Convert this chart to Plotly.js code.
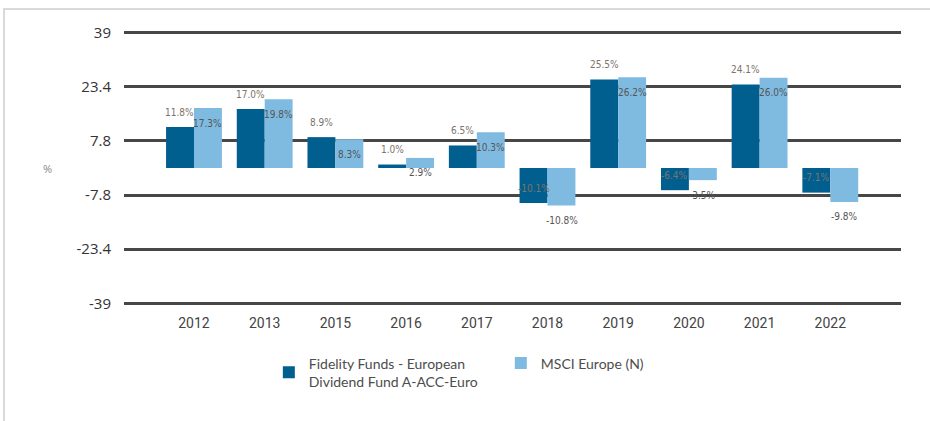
<!DOCTYPE html>
<html>
<head>
<meta charset="utf-8">
<script src="https://cdn.plot.ly/plotly-3.0.1.min.js"></script>
<style>
  html, body { margin: 0; padding: 0; background: #fff; }
  #wrap { position: relative; width: 930px; height: 421px; overflow: hidden; }
  #chart { position: absolute; left: 0; top: 0; width: 930px; height: 421px; }
  #frame { position: absolute; left: 3px; top: 8px; width: 1000px; height: 500px;
           border-top: 2px solid #d9d9d9; border-left: 2px solid #d9d9d9; pointer-events: none; }
</style>
</head>
<body>
<div id="wrap">
  <div id="chart"></div>
  <div id="frame"></div>
</div>
<script>
// ---- Data ----
const years = ['2012', '2013', '2015', '2016', '2017', '2018', '2019', '2020', '2021', '2022'];
const fundName = 'Fidelity Funds - European<br>Dividend Fund A-ACC-Euro';
const indexName = 'MSCI Europe (N)';
const fundValues = [11.8, 17.0, 8.9, 1.0, 6.5, -10.1, 25.5, -6.4, 24.1, -7.1];
const indexValues = [17.3, 19.8, 8.3, 2.9, 10.3, -10.8, 26.2, -3.5, 26.0, -9.8];
const yTickValues = [39, 23.4, 7.8, -7.8, -23.4, -39];
const yTickLabels = ['39', '23.4', '7.8', '-7.8', '-23.4', '-39'];

// ---- Style ----
const fundColor = '#005f8f';
const indexColor = '#7fbbe1';
const labelFont = { family: 'Liberation Sans Narrow, DejaVu Sans Condensed, sans-serif', size: 10 };

const traces = [
  { type: 'bar', name: fundName, x: years, y: fundValues,
    marker: { color: fundColor, line: { width: 0 } }, hoverinfo: 'none' },
  { type: 'bar', name: indexName, x: years, y: indexValues,
    marker: { color: indexColor, line: { width: 0 } }, hoverinfo: 'none' }
];

const annotations = [];
years.forEach((yr, i) => {
  // category axis: annotation x given as the category's serial index
  annotations.push({ x: i, y: fundValues[i], xref: 'x', yref: 'y', xshift: -14, yshift: 15,
    xanchor: 'center', yanchor: 'middle',
    text: fundValues[i].toFixed(1) + '%', showarrow: false,
    font: Object.assign({ color: '#7d736a' }, labelFont) });
  annotations.push({ x: i, y: indexValues[i], xref: 'x', yref: 'y', xshift: 14, yshift: -15,
    xanchor: 'center', yanchor: 'middle',
    text: indexValues[i].toFixed(1) + '%', showarrow: false,
    font: Object.assign({ color: '#555555' }, labelFont) });
});
annotations.push({ x: -0.099, y: 0.5, xref: 'paper', yref: 'paper', xanchor: 'center', yanchor: 'middle',
  text: '%', showarrow: false,
  font: { family: 'Open Sans, sans-serif', size: 11, color: '#888' } });

const layout = {
  width: 930, height: 421,
  margin: { l: 124, r: 29, t: 31, b: 116, pad: 0 },
  paper_bgcolor: '#ffffff', plot_bgcolor: '#ffffff',
  barmode: 'group', bargap: 0.21, bargroupgap: 0,
  showlegend: true,
  xaxis: { type: 'category', range: [-0.99, 10.0], showgrid: false, zeroline: false, showline: false,
    ticks: '', ticklabelstandoff: 8,
    tickfont: { family: 'Roboto, sans-serif', size: 14, color: '#444' } },
  yaxis: { range: [-39.5, 39.5], tickmode: 'array', tickvals: yTickValues, ticktext: yTickLabels,
    showgrid: true, gridcolor: '#474747', gridwidth: 3, zeroline: false, showline: false,
    ticks: '', ticklabelstandoff: 12,
    tickfont: { family: 'Open Sans, sans-serif', size: 15, color: '#333' } },
  legend: { orientation: 'h', x: 0.1864, y: -0.155, xanchor: 'left', yanchor: 'top',
    entrywidth: 187, entrywidthmode: 'pixels',
    font: { family: 'Lato, sans-serif', size: 14, color: '#4d4d4d' },
    bgcolor: 'rgba(0,0,0,0)', traceorder: 'normal' },
  annotations: annotations
};

Plotly.newPlot('chart', traces, layout, { displayModeBar: false, staticPlot: true });
</script>
</body>
</html>
